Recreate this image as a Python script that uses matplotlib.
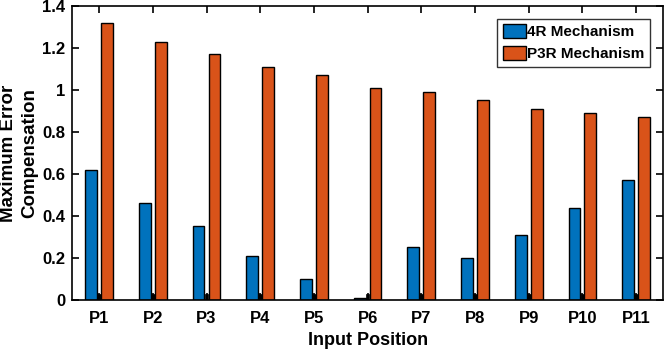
import matplotlib.pyplot as plt
import numpy as np

categories = ["P1", "P2", "P3", "P4", "P5", "P6", "P7", "P8", "P9", "P10", "P11"]
mech_4r = [0.62, 0.46, 0.35, 0.21, 0.10, 0.01, 0.25, 0.20, 0.31, 0.44, 0.57]
mech_p3r = [1.32, 1.23, 1.17, 1.11, 1.07, 1.01, 0.99, 0.95, 0.91, 0.89, 0.87]
# tiny hidden third series visible as black stubs between the bars
stub = [0.03] * 11

plt.rcParams["font.family"] = ["Liberation Sans", "DejaVu Sans"]
plt.rcParams["font.weight"] = "bold"

fig = plt.figure(figsize=(6.69, 3.5), dpi=100)
ax = fig.add_axes([0.108, 0.143, 0.883, 0.840])

x = np.arange(1, len(categories) + 1)
width = 0.22
ax.bar(x - 0.148, mech_4r, width, color="#0072BD", edgecolor="black",
       linewidth=1, label="4R Mechanism", zorder=2)
ax.bar(x + 0.148, mech_p3r, width, color="#D95319", edgecolor="black",
       linewidth=1, label="P3R Mechanism", zorder=2)
ax.bar(x, stub, 0.07, color="black", edgecolor="black", linewidth=0.5, zorder=1)

ax.set_xlim(0.5, 11.5)
ax.set_ylim(0, 1.4)
ax.set_xticks(x)
ax.set_xticklabels(categories, fontsize=12, fontweight="bold")
ax.set_yticks([0, 0.2, 0.4, 0.6, 0.8, 1.0, 1.2, 1.4])
ax.set_yticklabels(["0", "0.2", "0.4", "0.6", "0.8", "1", "1.2", "1.4"],
                   fontsize=12, fontweight="bold")
ax.tick_params(direction="in", top=True, right=True, length=5, width=1.2)
ax.tick_params(axis="x", pad=8)
ax.tick_params(axis="y", pad=5)
for spine in ax.spines.values():
    spine.set_linewidth(1.2)

ax.set_xlabel("Input Position", fontsize=13, fontweight="bold", labelpad=4)
ax.set_ylabel("Maximum Error\nCompensation", fontsize=13.5, fontweight="bold",
              labelpad=3, linespacing=1.3)

leg = ax.legend(loc="upper right", fontsize=11, frameon=True, fancybox=False,
                edgecolor="black", borderpad=0.35, handlelength=1.5,
                handleheight=1.0, handletextpad=0.1, labelspacing=0.45,
                borderaxespad=0.85)
leg.get_frame().set_linewidth(1.0)
for t in leg.get_texts():
    t.set_fontweight("bold")

fig.savefig("out.png", dpi=100)
